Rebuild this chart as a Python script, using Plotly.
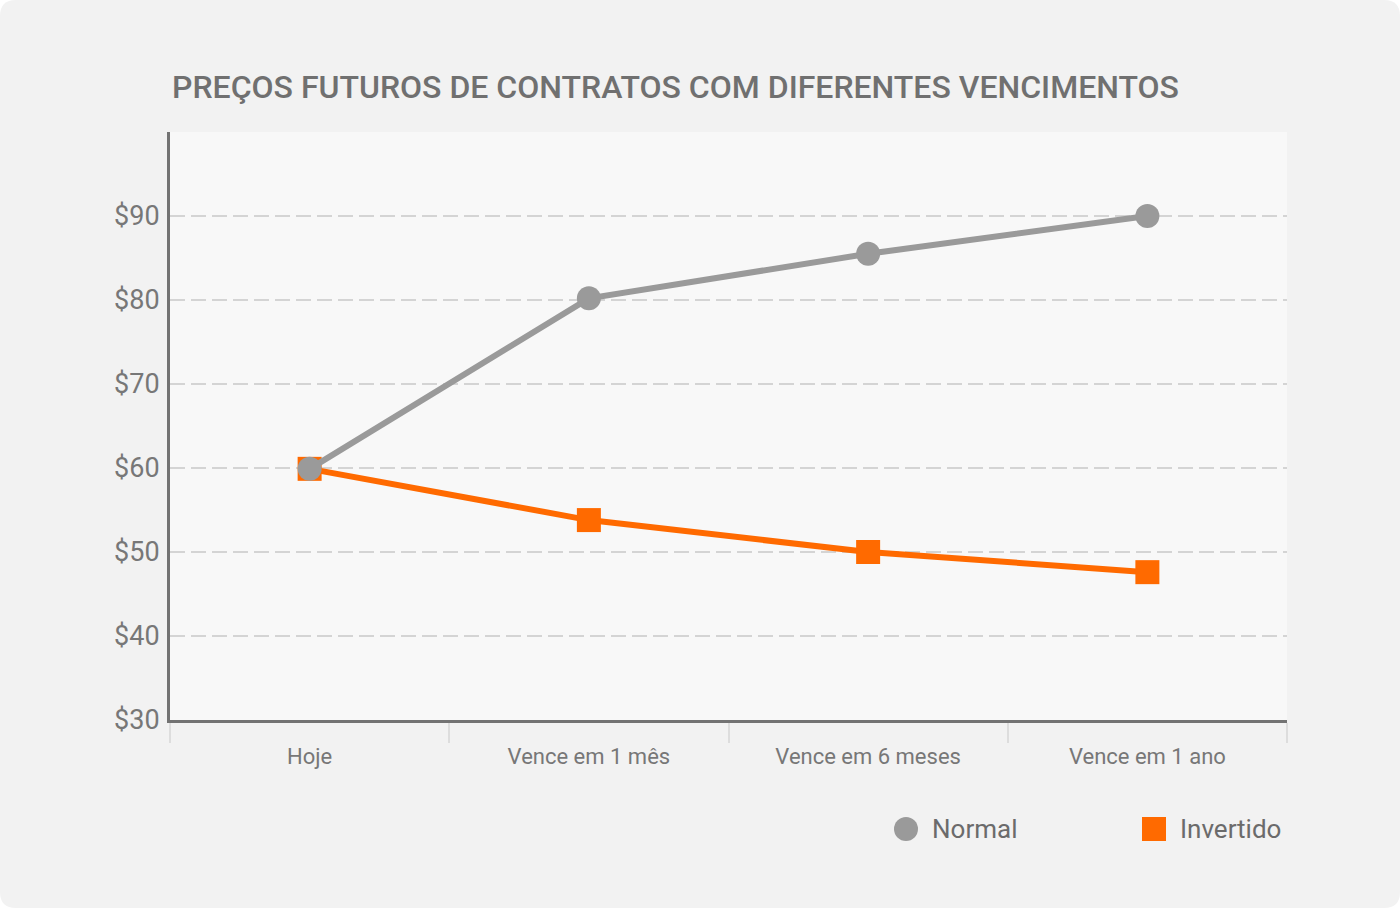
import plotly.graph_objects as go

categories = ["Hoje", "Vence em 1 mês", "Vence em 6 meses", "Vence em 1 ano"]
normal = [59.9, 80.2, 85.5, 90.0]
invertido = [59.9, 53.8, 50.0, 47.6]
y_ticks = [30, 40, 50, 60, 70, 80, 90]
y_tick_labels = ["$30", "$40", "$50", "$60", "$70", "$80", "$90"]
title_text = "PREÇOS FUTUROS DE CONTRATOS COM DIFERENTES VENCIMENTOS"
series_names = ["Normal", "Invertido"]

W, H = 1400, 908
L, R, T, B = 170, 1287, 132, 720
GRAY = "#9a9a9a"
ORANGE = "#ff6a00"


def px(x):
    return (x - L) / (R - L)


def py(y):
    return (B - y) / (B - T)


def rounded_rect(x0, y0, x1, y1, r):
    return (
        f"M {px(x0 + r)},{py(y0)} L {px(x1 - r)},{py(y0)} "
        f"Q {px(x1)},{py(y0)} {px(x1)},{py(y0 + r)} "
        f"L {px(x1)},{py(y1 - r)} Q {px(x1)},{py(y1)} {px(x1 - r)},{py(y1)} "
        f"L {px(x0 + r)},{py(y1)} Q {px(x0)},{py(y1)} {px(x0)},{py(y1 - r)} "
        f"L {px(x0)},{py(y0 + r)} Q {px(x0)},{py(y0)} {px(x0 + r)},{py(y0)} Z"
    )


fig = go.Figure()
fig.add_trace(go.Scatter(
    x=categories, y=invertido, name=series_names[1], mode="lines+markers",
    line=dict(color=ORANGE, width=6),
    marker=dict(symbol="square", size=24, color=ORANGE, line=dict(width=0)),
    showlegend=False,
))
fig.add_trace(go.Scatter(
    x=categories, y=normal, name=series_names[0], mode="lines+markers",
    line=dict(color=GRAY, width=6),
    marker=dict(symbol="circle", size=24, color=GRAY, line=dict(width=0)),
    showlegend=False,
))

shapes = [
    dict(type="path", xref="paper", yref="paper", layer="below",
         path=rounded_rect(0, 0, W, H, 16), fillcolor="#f2f2f2", line=dict(width=0)),
    dict(type="rect", xref="paper", yref="paper", layer="below",
         x0=0, x1=1, y0=0, y1=1, fillcolor="#f8f8f8", line=dict(width=0)),
    # manual legend markers
    dict(type="circle", xref="paper", yref="paper",
         x0=px(894), x1=px(918), y0=py(841), y1=py(817),
         fillcolor=GRAY, line=dict(width=0)),
    dict(type="rect", xref="paper", yref="paper",
         x0=px(1142), x1=px(1166), y0=py(841), y1=py(817),
         fillcolor=ORANGE, line=dict(width=0)),
]

annotations = [
    dict(text=series_names[0], xref="paper", yref="paper", x=px(930), y=py(829),
         xanchor="left", yanchor="middle", showarrow=False,
         font=dict(family="Roboto", size=26, color="#6b6b6b")),
    dict(text=series_names[1], xref="paper", yref="paper", x=px(1178), y=py(829),
         xanchor="left", yanchor="middle", showarrow=False,
         font=dict(family="Roboto", size=26, color="#6b6b6b")),
]

fig.update_layout(
    width=W, height=H,
    margin=dict(l=L, r=W - R, t=T, b=H - B, pad=0),
    paper_bgcolor="white",
    plot_bgcolor="rgba(0,0,0,0)",
    font=dict(family="Roboto", color="#777777"),
    title=dict(text=title_text, xref="container", yref="container",
               x=172 / W, xanchor="left", y=1 - 87 / H, yanchor="middle",
               font=dict(family="Roboto", size=32, weight=500, color="#707070")),
    showlegend=False,
    shapes=shapes,
    annotations=annotations,
    xaxis=dict(
        type="category", range=[-0.5, 3.5],
        showline=True, linewidth=3, linecolor="#737373",
        ticks="outside", tickson="boundaries", ticklen=20, tickwidth=2,
        tickcolor="#dddddd", showgrid=False, zeroline=False,
        ticklabelstandoff=15,
        tickfont=dict(family="Roboto", size=22, color="#777777"),
    ),
    yaxis=dict(
        range=[30, 100], tickvals=y_ticks, ticktext=y_tick_labels,
        showline=True, linewidth=3, linecolor="#737373",
        ticks="", showgrid=True, gridcolor="#d4d4d4", gridwidth=2,
        griddash="15px,6px", zeroline=False, ticklabelstandoff=2,
        tickfont=dict(family="Roboto", size=27, color="#777777"),
    ),
)

fig.write_html("out.html", config={"displayModeBar": False},
               post_script="document.body.style.margin='0';")
